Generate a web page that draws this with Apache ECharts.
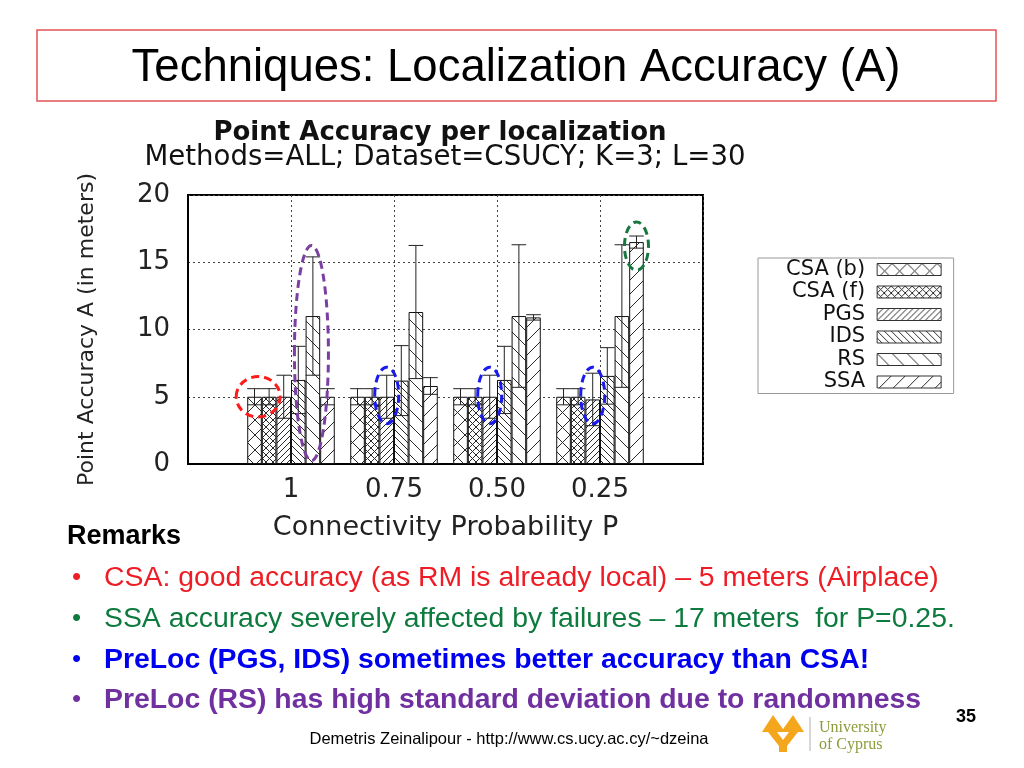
<!DOCTYPE html>
<html>
<head>
<meta charset="utf-8">
<script src="https://cdn.jsdelivr.net/npm/echarts@6/dist/echarts.min.js"></script>
<style>
html,body{margin:0;padding:0;background:#fff;}
#c{width:1024px;height:768px;}
</style>
</head>
<body>
<div id="c"></div>
<script>
// ---- data ----
const categories = ['1', '0.75', '0.50', '0.25'];
const methods = ['CSA (b)', 'CSA (f)', 'PGS', 'IDS', 'RS', 'SSA'];
const csaB = [5.0, 5.0, 5.0, 5.0];
const csaBErr = [0.6, 0.6, 0.6, 0.6];
const csaF = [5.0, 5.0, 5.0, 5.0];
const csaFErr = [0.6, 0.6, 0.6, 0.6];
const pgs = [5.0, 5.0, 5.0, 4.8];
const pgsErr = [1.6, 1.6, 1.6, 1.95];
const ids = [6.25, 6.2, 6.25, 6.55];
const idsErr = [2.5, 2.6, 2.5, 2.1];
const rs = [11.0, 11.3, 11.0, 11.0];
const rsErr = [4.4, 4.95, 5.3, 5.3];
const ssa = [5.0, 5.8, 10.9, 16.5];
const ssaErr = [0.6, 0.62, 0.2, 0.45];
const yTicks = [0, 5, 10, 15, 20];

const values = [csaB, csaF, pgs, ids, rs, ssa];
const errors = [csaBErr, csaFErr, pgsErr, idsErr, rsErr, ssaErr];

// annotation ellipses: [category index, bar slot position, centre value, half-height (value units), x radius px, colour]
const annCat = [0, 0, 1, 2, 3, 3];
const annSlot = [0.75, 4.4, 2.5, 2.5, 2.5, 5.5];
const annVal = [5.0, 8.25, 5.1, 5.1, 5.1, 16.2];
const annHalf = [1.5, 8.0, 2.1, 2.1, 2.1, 1.8];
const annRx = [22, 17, 12, 12, 12, 12];
const annColor = ['#ff1a1a', '#7a3fa0', '#1a1aee', '#1a1aee', '#1a1aee', '#17773f'];

// ---- patterns ----
function tile(p, dirs, lw) {
  const c = document.createElement('canvas');
  c.width = p; c.height = p;
  const ctx = c.getContext('2d');
  ctx.fillStyle = '#fff';
  ctx.fillRect(0, 0, p, p);
  ctx.strokeStyle = '#2a2a2a';
  ctx.lineWidth = lw || 1;
  ctx.beginPath();
  for (const d of dirs) {
    for (let k = -1; k <= 1; k++) {
      if (d === '/') { ctx.moveTo(k * p, p); ctx.lineTo(k * p + p, 0); }
      else { ctx.moveTo(k * p, 0); ctx.lineTo(k * p + p, p); }
    }
  }
  ctx.stroke();
  return { image: c, repeat: 'repeat' };
}
const patterns = [
  tile(15, ['/', '\\']),
  tile(7, ['/', '\\']),
  tile(6, ['/']),
  tile(7, ['\\']),
  tile(15, ['\\']),
  tile(14, ['/'])
];

const xData = [''].concat(categories).concat(['']);
const CHART_FONT = '"DejaVu Sans", sans-serif';
const SLIDE_FONT = '"Liberation Sans", Arial, sans-serif';

const barSeries = methods.map((m, i) => ({
  name: m,
  type: 'bar',
  data: ['-'].concat(values[i]).concat(['-']),
  barGap: '0%',
  barCategoryGap: '15%',
  itemStyle: { color: patterns[i], borderColor: '#111', borderWidth: 1 },
  z: 2
}));

const errData = [];
methods.forEach((m, i) => {
  values[i].forEach((v, j) => {
    errData.push([j + 1, v - errors[i][j], v + errors[i][j], i]);
  });
});

const GROUP_FRAC = 0.85;
const errSeries = {
  type: 'custom',
  name: 'err',
  z: 5,
  silent: true,
  data: errData,
  encode: { x: 0, y: [1, 2] },
  renderItem: function (params, api) {
    const xi = api.value(0), lo = api.value(1), hi = api.value(2), m = api.value(3);
    const p0 = api.coord([xi, 0]);
    const p1 = api.coord([xi + 1, 0]);
    const band = Math.abs(p1[0] - p0[0]);
    const gw = band * GROUP_FRAC, bw = gw / methods.length;
    const x = p0[0] - gw / 2 + (m + 0.5) * bw;
    const yl = api.coord([xi, lo])[1], yh = api.coord([xi, hi])[1];
    const hw = bw * 0.5;
    const st = { stroke: '#222', lineWidth: 1 };
    return {
      type: 'group',
      children: [
        { type: 'line', shape: { x1: x, y1: yl, x2: x, y2: yh }, style: st },
        { type: 'line', shape: { x1: x - hw, y1: yh, x2: x + hw, y2: yh }, style: st },
        { type: 'line', shape: { x1: x - hw, y1: yl, x2: x + hw, y2: yl }, style: st }
      ]
    };
  }
};

const chart = echarts.init(document.getElementById('c'), null, { renderer: 'canvas' });
chart.setOption({
  animation: false,
  backgroundColor: '#fff',
  grid: {
    left: 188, right: 321, top: 195, bottom: 304,
    show: true, borderColor: '#000', borderWidth: 2, backgroundColor: 'transparent'
  },
  legend: {
    data: methods,
    orient: 'vertical',
    left: 758, top: 258,
    align: 'right',
    itemWidth: 64, itemHeight: 12, itemGap: 1.5,
    icon: 'rect',
    padding: [1, 12, 1, 28],
    borderColor: '#999', borderWidth: 1,
    selectedMode: false,
    itemStyle: { borderColor: '#333', borderWidth: 1 },
    textStyle: { fontFamily: CHART_FONT, fontSize: 21, color: '#111', padding: [0, 7, 0, 0] }
  },
  xAxis: {
    type: 'category',
    data: xData,
    boundaryGap: false,
    axisLine: { show: true, lineStyle: { color: '#000', width: 2 } },
    axisTick: { show: false },
    axisLabel: { interval: 0, fontFamily: CHART_FONT, fontSize: 26, color: '#222', margin: 13 },
    splitLine: { show: true, interval: 0, lineStyle: { color: '#444', type: [2, 3], width: 1 } },
    name: 'Connectivity Probability P',
    nameLocation: 'middle',
    nameGap: 50,
    nameTextStyle: { fontFamily: CHART_FONT, fontSize: 27, color: '#222' }
  },
  yAxis: {
    type: 'value',
    min: 0, max: 20, interval: 5,
    axisLine: { show: true, lineStyle: { color: '#000', width: 2 } },
    axisTick: { show: false },
    axisLabel: { fontFamily: CHART_FONT, fontSize: 26, color: '#222', margin: 18,
      formatter: v => (yTicks.indexOf(v) >= 0 ? String(v) : '') },
    splitLine: { show: true, lineStyle: { color: '#444', type: [2, 3], width: 1 } },
    name: 'Point Accuracy A (in meters)',
    nameLocation: 'middle',
    nameRotate: 90,
    nameGap: 90,
    nameTextStyle: { fontFamily: CHART_FONT, fontSize: 22, color: '#222' }
  },
  series: barSeries.concat([errSeries])
});

// ---- slide graphics ----
const g = [];
g.push({ type: 'rect', shape: { x: 37, y: 30, width: 959, height: 71 },
  style: { fill: 'none', stroke: '#e45454', lineWidth: 1.5 }, z: 10 });
g.push({ type: 'text', x: 516, y: 68, z: 10,
  style: { text: 'Techniques: Localization Accuracy (A)', font: '45.5px ' + SLIDE_FONT, fill: '#000', align: 'center', verticalAlign: 'middle' } });
g.push({ type: 'text', x: 440, y: 133, z: 10,
  style: { text: 'Point Accuracy per localization', font: 'bold 26px ' + CHART_FONT, fill: '#111', align: 'center', verticalAlign: 'middle' } });
g.push({ type: 'text', x: 445, y: 158, z: 10,
  style: { text: 'Methods=ALL; Dataset=CSUCY; K=3; L=30', font: '27.6px ' + CHART_FONT, fill: '#111', align: 'center', verticalAlign: 'middle' } });

g.push({ type: 'text', x: 67, y: 537, z: 10,
  style: { text: 'Remarks', font: 'bold 27px ' + SLIDE_FONT, fill: '#000', align: 'left', verticalAlign: 'middle' } });
const remarks = [
  ['CSA: good accuracy (as RM is already local) \u2013 5 meters (Airplace)', '#ee1c24', ''],
  ['SSA accuracy severely affected by failures \u2013 17 meters  for P=0.25.', '#0d7a3e', ''],
  ['PreLoc (PGS, IDS) sometimes better accuracy than CSA!', '#0000f0', 'bold '],
  ['PreLoc (RS) has high standard deviation due to randomness', '#7030a0', 'bold ']
];
const remY = [578, 619, 660, 700];
remarks.forEach((r, i) => {
  g.push({ type: 'text', x: 72, y: remY[i], z: 10,
    style: { text: '\u2022', font: '26px ' + SLIDE_FONT, fill: r[1], align: 'left', verticalAlign: 'middle' } });
  g.push({ type: 'text', x: 104, y: remY[i], z: 10,
    style: { text: r[0], font: r[2] + '28.4px ' + SLIDE_FONT, fill: r[1], align: 'left', verticalAlign: 'middle' } });
});
g.push({ type: 'text', x: 509, y: 739, z: 10,
  style: { text: 'Demetris Zeinalipour - http://www.cs.ucy.ac.cy/~dzeina', font: '16.5px ' + SLIDE_FONT, fill: '#000', align: 'center', verticalAlign: 'middle' } });
g.push({ type: 'text', x: 966, y: 717, z: 10,
  style: { text: '35', font: 'bold 18px ' + SLIDE_FONT, fill: '#000', align: 'center', verticalAlign: 'middle' } });

// logo
const gold = '#f4a71c';
g.push({ type: 'polygon', z: 10, shape: { points: [[773, 715], [785, 732], [762, 732]] }, style: { fill: gold } });
g.push({ type: 'polygon', z: 10, shape: { points: [[793, 715], [804, 732], [781, 732]] }, style: { fill: gold } });
g.push({ type: 'polygon', z: 10, shape: { points: [[768, 732], [777, 732], [783, 740], [789, 732], [798, 732], [787, 746], [787, 752], [779, 752], [779, 746]] }, style: { fill: gold } });
g.push({ type: 'line', z: 10, shape: { x1: 810, y1: 717, x2: 810, y2: 751 }, style: { stroke: '#b0b0b0', lineWidth: 1 } });
g.push({ type: 'text', x: 819, y: 728, z: 10,
  style: { text: 'University', font: '16px "Liberation Serif", serif', fill: '#8a9d3a', align: 'left', verticalAlign: 'middle' } });
g.push({ type: 'text', x: 819, y: 745, z: 10,
  style: { text: 'of Cyprus', font: '16px "Liberation Serif", serif', fill: '#8a9d3a', align: 'left', verticalAlign: 'middle' } });

// annotation ellipses positioned through the axes
const pA = chart.convertToPixel({ gridIndex: 0 }, [1, 0]);
const pB = chart.convertToPixel({ gridIndex: 0 }, [2, 0]);
const band = Math.abs(pB[0] - pA[0]);
const bw = band * GROUP_FRAC / methods.length;
annCat.forEach((c, i) => {
  const ctr = chart.convertToPixel({ gridIndex: 0 }, [c + 1, annVal[i]]);
  const top = chart.convertToPixel({ gridIndex: 0 }, [c + 1, annVal[i] + annHalf[i]]);
  const cx = ctr[0] - band * GROUP_FRAC / 2 + annSlot[i] * bw;
  g.push({ type: 'ellipse', z: 20, silent: true,
    shape: { cx: cx, cy: ctr[1], rx: annRx[i], ry: Math.abs(ctr[1] - top[1]) },
    style: { fill: 'none', stroke: annColor[i], lineWidth: 3, lineDash: [8, 5] } });
});

chart.setOption({ graphic: g });
</script>
</body>
</html>
